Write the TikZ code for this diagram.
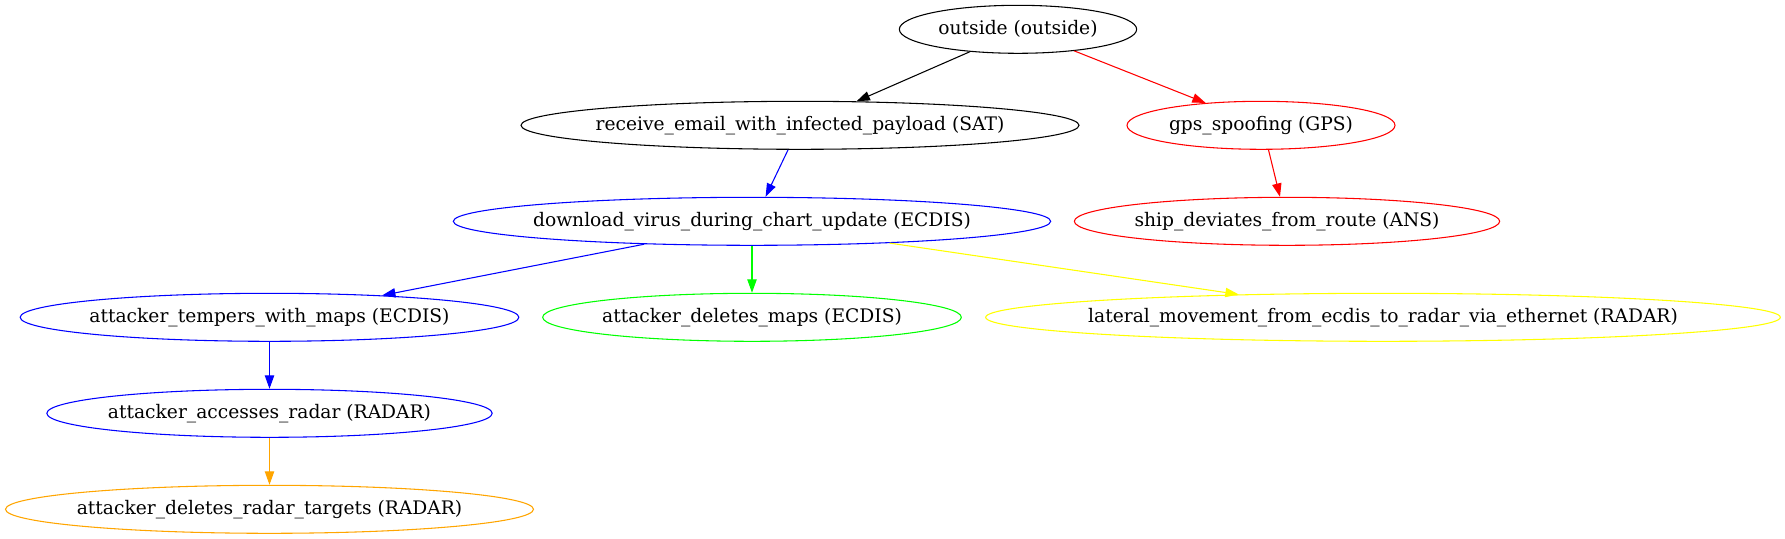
\documentclass[tikz,border=0pt]{standalone}
\usepackage{fontspec}
\setmainfont{DejaVu Serif}
\usetikzlibrary{shapes.geometric,arrows.meta}
\definecolor{gvgreen}{RGB}{0,255,0}
\definecolor{gvyellow}{RGB}{255,255,0}
\definecolor{gvorange}{RGB}{255,165,0}
\definecolor{gvblue}{RGB}{0,0,255}
\definecolor{gvred}{RGB}{255,0,0}
\newcommand{\gvlabel}[1]{\makebox[0pt]{#1}}
\begin{document}
\begin{tikzpicture}[x=0.75pt,y=-0.75pt,
  gvnode/.style={ellipse,draw,line width=0.8pt,inner sep=0pt,minimum height=36pt,
    font=\fontsize{14}{16}\selectfont,text=black},
  gvedge/.style={line width=0.8pt,-{Triangle[length=10pt,width=7pt]}}]
\useasboundingbox (0,0) rectangle (1785,539);
\node[gvnode,draw=black,minimum width=178pt] (out) at (1018,29.3) {\gvlabel{outside (outside)}};
\node[gvnode,draw=black,minimum width=418.5pt] (rec) at (800,125.3) {\gvlabel{receive\_email\_with\_infected\_payload (SAT)}};
\node[gvnode,draw=gvred,minimum width=201pt] (gps) at (1261,125.3) {\gvlabel{gps\_spoofing (GPS)}};
\node[gvnode,draw=gvblue,minimum width=448pt] (dl) at (752,221.3) {\gvlabel{download\_virus\_during\_chart\_update (ECDIS)}};
\node[gvnode,draw=gvred,minimum width=319pt] (ship) at (1287,221.3) {\gvlabel{ship\_deviates\_from\_route (ANS)}};
\node[gvnode,draw=gvblue,minimum width=374pt] (temp) at (269.5,317.3) {\gvlabel{attacker\_tempers\_with\_maps (ECDIS)}};
\node[gvnode,draw=gvgreen,minimum width=314pt] (delm) at (752,317.3) {\gvlabel{attacker\_deletes\_maps (ECDIS)}};
\node[gvnode,draw=gvyellow,minimum width=596pt] (lat) at (1383,317.3) {\gvlabel{lateral\_movement\_from\_ecdis\_to\_radar\_via\_ethernet (RADAR)}};
\node[gvnode,draw=gvblue,minimum width=334pt] (acc) at (269.5,413.3) {\gvlabel{attacker\_accesses\_radar (RADAR)}};
\node[gvnode,draw=gvorange,minimum width=396pt] (delr) at (269.5,509.3) {\gvlabel{attacker\_deletes\_radar\_targets (RADAR)}};
\draw[gvedge,black] (out.-155) -- (rec.23);
\draw[gvedge,gvred] (out.-21.6) -- (gps.158.3);
\draw[gvedge,gvblue] (rec.-116.6) -- (dl.61.6);
\draw[gvedge,gvred] (gps.-73.7) -- (ship.106.3);
\draw[gvedge,gvblue] (dl.-168.4) -- (temp.11.5);
\draw[gvedge,gvgreen] (dl.south) -- (delm.north);
\draw[gvedge,gvyellow] (dl.-9.6) -- (lat.171.3);
\draw[gvedge,gvblue] (temp.south) -- (acc.north);
\draw[gvedge,gvorange] (acc.south) -- (delr.north);
\end{tikzpicture}
\end{document}
